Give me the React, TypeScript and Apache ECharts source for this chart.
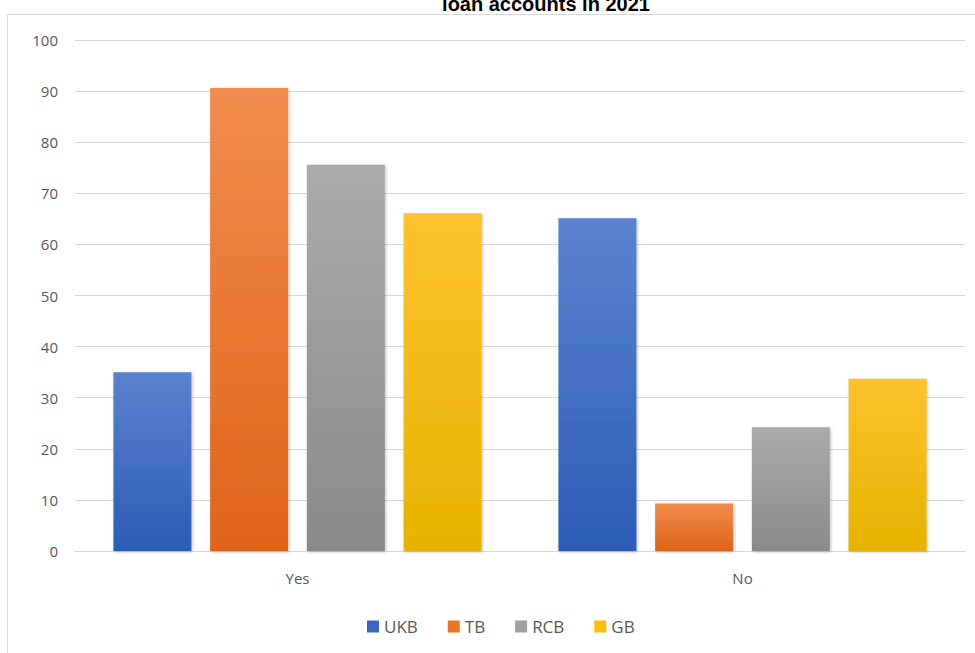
import React, { useEffect, useRef } from "react";
import * as echarts from "echarts";

const categories = ["Yes", "No"];
const seriesNames = ["UKB", "TB", "RCB", "GB"];
const ukb = [35, 65.1];
const tb = [90.6, 9.3];
const rcb = [75.6, 24.2];
const gb = [66.1, 33.7];
const yTicks = { min: 0, max: 100, interval: 10 };
const titleText = "loan accounts in 2021";

const colorsTop = ["#5b82cf", "#f28c4e", "#ababab", "#fdc22e"];
const colorsBottom = ["#2c5db7", "#df6419", "#8a8a8a", "#e6b300"];
const legendColors = ["#3a66c0", "#ec7428", "#a0a0a0", "#fbbf0f"];

export default function App() {
  const ref = useRef<HTMLDivElement>(null);
  useEffect(() => {
    if (!ref.current) return;
    const chart = echarts.init(ref.current, undefined, { renderer: "svg" });
    const data = [ukb, tb, rcb, gb];
    const series = seriesNames.map((name, i) => ({
      name,
      type: "bar",
      data: data[i],
      barWidth: 78,
      barGap: "24%",
      itemStyle: {
        color: new echarts.graphic.LinearGradient(0, 0, 0, 1, [
          { offset: 0, color: colorsTop[i] },
          { offset: 1, color: colorsBottom[i] },
        ]),
        shadowBlur: 3,
        shadowColor: "rgba(0,0,0,0.25)",
        shadowOffsetX: 1,
        shadowOffsetY: 1,
      },
    }));
    chart.setOption({
      animation: false,
      backgroundColor: "#ffffff",
      graphic: [
        {
          type: "rect",
          shape: { x: 7.5, y: 14.5, width: 1000, height: 700 },
          style: { fill: "none", stroke: "#d9d9d9", lineWidth: 1 },
          silent: true,
        },
        {
          type: "text",
          x: 546,
          y: -6,
          style: {
            text: titleText,
            font: "bold 20px 'Liberation Sans', Arial, sans-serif",
            fill: "#000000",
            textAlign: "center",
            textVerticalAlign: "top",
          },
        },
      ],
      legend: {
        data: seriesNames.map((n, i) => ({ name: n, itemStyle: { color: legendColors[i] } })),
        bottom: 13,
        left: 362,
        icon: "rect",
        itemWidth: 12,
        itemHeight: 12,
        itemGap: 30,
        textStyle: { color: "#595959", fontSize: 17, fontFamily: "'Open Sans', sans-serif" },
      },
      grid: { left: 75, right: 10, top: 40, bottom: 102 },
      xAxis: {
        type: "category",
        data: categories,
        axisLine: { lineStyle: { color: "#d9d9d9", width: 1 } },
        axisTick: { show: false },
        axisLabel: { color: "#595959", fontSize: 15, margin: 19, fontFamily: "'Open Sans', sans-serif" },
      },
      yAxis: {
        type: "value",
        min: yTicks.min,
        max: yTicks.max,
        interval: yTicks.interval,
        axisLine: { show: false },
        axisTick: { show: false },
        splitLine: { lineStyle: { color: "#d9d9d9", width: 1 } },
        axisLabel: { color: "#595959", fontSize: 15, margin: 17, fontFamily: "'Open Sans', sans-serif" },
      },
      series,
    });
    return () => chart.dispose();
  }, []);
  return (
    <div
      ref={ref}
      style={{ position: "fixed", left: 0, top: 0, width: 975, height: 653 }}
    />
  );
}
